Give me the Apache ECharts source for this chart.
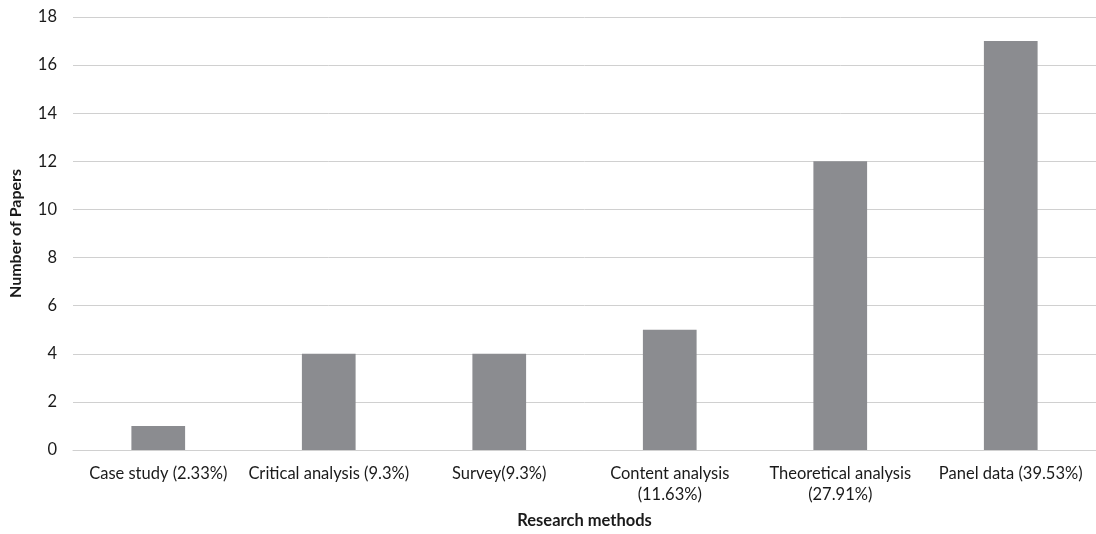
<!DOCTYPE html>
<html>
<head>
<meta charset="utf-8">
<script src="https://cdn.jsdelivr.net/npm/echarts@6/dist/echarts.min.js"></script>
<style>
  html, body { margin: 0; padding: 0; background: #ffffff; }
  #chart { width: 1096px; height: 534px; }
</style>
</head>
<body>
<div id="chart"></div>
<script>
// Research methods used across the reviewed papers
const categories = [
  'Case study (2.33%)',
  'Critical analysis (9.3%)',
  'Survey(9.3%)',
  'Content analysis\n(11.63%)',
  'Theoretical analysis\n(27.91%)',
  'Panel data (39.53%)'
];
const paperCounts = [1, 4, 4, 5, 12, 17];
const yTicks = { min: 0, max: 18, interval: 2 };

const FONT = 'Lato, "Open Sans", sans-serif';
const chart = echarts.init(document.getElementById('chart'), null, { renderer: 'canvas' });

chart.setOption({
  animation: false,
  backgroundColor: '#ffffff',
  grid: { left: 69, right: 0, top: 17, bottom: 82, containLabel: false },
  xAxis: {
    type: 'category',
    data: categories,
    name: 'Research methods',
    nameLocation: 'middle',
    nameGap: 62,
    nameTextStyle: { fontFamily: FONT, fontSize: 16.5, fontWeight: 'bold', color: '#1a1a1a' },
    axisLine: { show: true, lineStyle: { color: '#d0d0d0', width: 1 } },
    axisTick: { show: false },
    axisLabel: {
      interval: 0,
      margin: 13,
      fontFamily: FONT,
      fontSize: 16.5,
      color: '#1a1a1a',
      lineHeight: 21
    }
  },
  yAxis: {
    type: 'value',
    min: yTicks.min,
    max: yTicks.max,
    interval: yTicks.interval,
    name: 'Number of Papers',
    nameLocation: 'middle',
    nameGap: 49,
    nameRotate: 90,
    nameTextStyle: { fontFamily: FONT, fontSize: 16, fontWeight: 'bold', color: '#1a1a1a' },
    axisLine: { show: false },
    axisTick: { show: false },
    axisLabel: { margin: 16, fontFamily: FONT, fontSize: 16.5, color: '#1a1a1a' },
    splitLine: { show: true, lineStyle: { color: '#d0d0d0', width: 1 } }
  },
  series: [{
    type: 'bar',
    data: paperCounts,
    barWidth: '31.5%',
    itemStyle: { color: '#8b8c90' }
  }]
});
</script>
</body>
</html>
